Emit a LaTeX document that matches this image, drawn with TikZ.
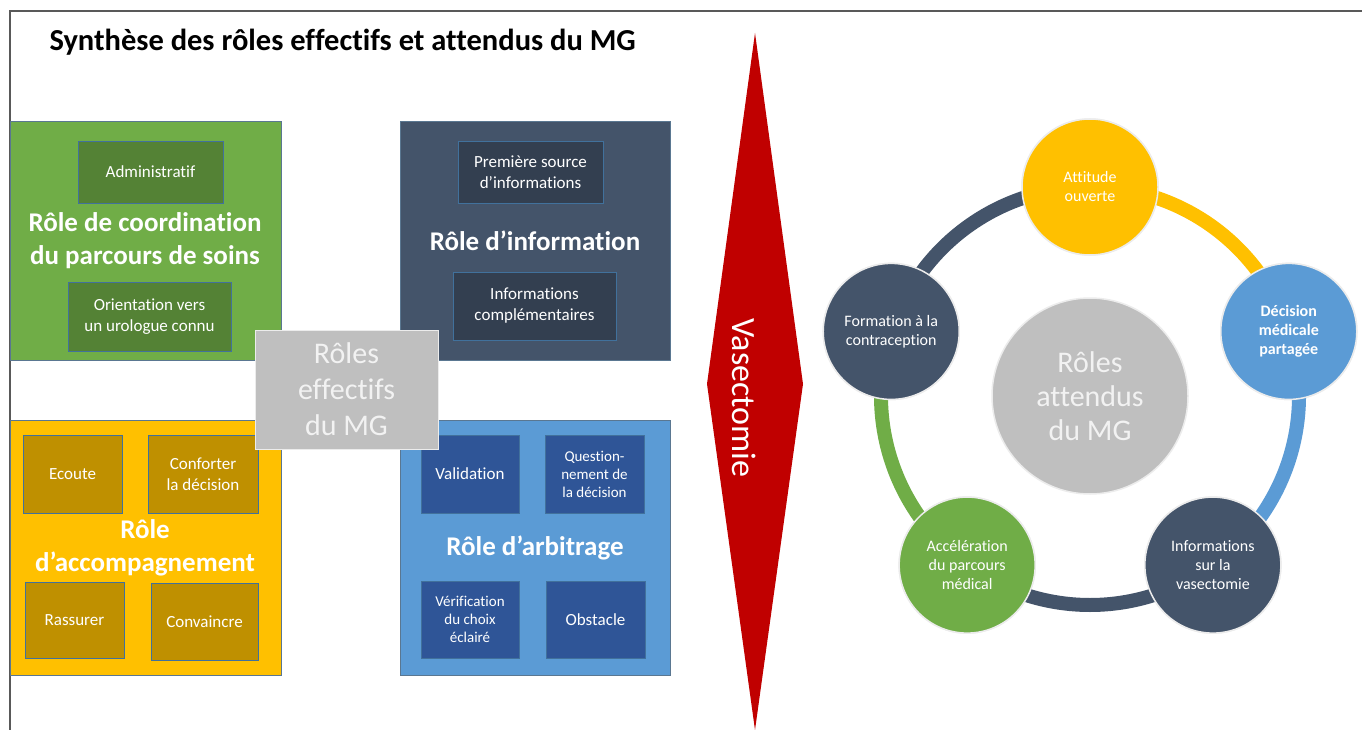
\documentclass[tikz,border=0pt]{standalone}
\usepackage{fontspec}
\setmainfont[Ligatures=NoCommon]{Carlito}
\definecolor{vert}{HTML}{70AD47}
\definecolor{vertfonce}{HTML}{548235}
\definecolor{marine}{HTML}{44546A}
\definecolor{marinefonce}{HTML}{333F50}
\definecolor{jaune}{HTML}{FFC000}
\definecolor{jaunefonce}{HTML}{BF9000}
\definecolor{bleu}{HTML}{5B9BD5}
\definecolor{bleufonce}{HTML}{2F5597}
\definecolor{gris}{HTML}{BFBFBF}
\definecolor{grisclair}{HTML}{F2F2F2}
\definecolor{rouge}{HTML}{C00000}
\definecolor{cadre}{HTML}{41719C}
\definecolor{trait}{HTML}{595959}

\tikzset{
  rolebox/.style={draw=cadre!60!gray, line width=0.8pt, inner sep=0pt},
  subbox/.style={draw=cadre, line width=0.8pt, inner sep=0pt, text=white, align=center,
    font=\fontsize{17}{21}\selectfont},
  smallbox/.style={subbox, font=\fontsize{15}{18}\selectfont},
  roletitle/.style={text=white, align=center, font=\bfseries\fontsize{27}{33}\selectfont},
  rond/.style={circle, minimum size=136pt, inner sep=0pt, draw=white!85!gray, line width=1.5pt,
    text=white, align=center, font=\fontsize{16}{19}\selectfont},
  anneau/.style={line width=14pt}
}

\begin{document}
\begin{tikzpicture}[x=1pt, y=-1pt]
\useasboundingbox (0,0) rectangle (1362,730);
\fill[white] (0,0) rectangle (1362,730);
\draw[trait, line width=1.5pt] (10,730) -- (10,11) -- (1362,11);

% titre
\node[anchor=west, font=\bfseries\fontsize{30.5}{34}\selectfont] (titre) at (46,42)
  {Synthèse des rôles effectifs et attendus du MG};

% role de coordination
\node[rolebox, fill=vert, minimum width=271pt, minimum height=239pt] (coord) at (145.5,240.5) {};
\node[subbox, fill=vertfonce, minimum width=145pt, minimum height=62pt] (admin) at (150.5,172) {Administratif};
\node[roletitle] (coordtxt) at (145,241) {Rôle de coordination\\du parcours de soins};
\node[subbox, fill=vertfonce, minimum width=163pt, minimum height=69pt] (orient) at (149.5,316.5)
  {Orientation vers\\un urologue connu};

% role d'information
\node[rolebox, fill=marine, minimum width=270pt, minimum height=239pt] (info) at (535,240.5) {};
\node[subbox, fill=marinefonce, minimum width=145pt, minimum height=62pt] (source) at (530.5,172)
  {Première source\\d’informations};
\node[roletitle] (infotxt) at (535,241) {Rôle d’information};
\node[subbox, fill=marinefonce, minimum width=163pt, minimum height=68pt] (compl) at (534.5,306)
  {Informations\\complémentaires};

% role d'accompagnement
\node[rolebox, fill=jaune, minimum width=271pt, minimum height=255pt] (accomp) at (145.5,547.5) {};
\node[subbox, fill=jaunefonce, minimum width=99pt, minimum height=78pt] (ecoute) at (72.5,474) {Ecoute};
\node[subbox, fill=jaunefonce, minimum width=110pt, minimum height=78pt] (conforter) at (203,474)
  {Conforter\\la décision};
\node[roletitle] (accomptxt) at (145,548) {Rôle\\d’accompagnement};
\node[subbox, fill=jaunefonce, minimum width=99pt, minimum height=76pt] (rassurer) at (74.5,620) {Rassurer};
\node[subbox, fill=jaunefonce, minimum width=107pt, minimum height=77pt] (convaincre) at (204.5,621.5) {Convaincre};

% role d'arbitrage
\node[rolebox, fill=bleu, minimum width=270pt, minimum height=255pt] (arbit) at (535,547.5) {};
\node[subbox, fill=bleufonce, minimum width=98pt, minimum height=78pt] (valid) at (470,474) {Validation};
\node[smallbox, fill=bleufonce, minimum width=99pt, minimum height=78pt] (quest) at (594.5,474)
  {Question-\\nement de\\la décision};
\node[roletitle] (arbittxt) at (535,548) {Rôle d’arbitrage};
\node[smallbox, fill=bleufonce, minimum width=98pt, minimum height=77pt] (verif) at (470,619.5)
  {Vérification\\du choix\\éclairé};
\node[subbox, fill=bleufonce, minimum width=99pt, minimum height=77pt] (obst) at (595.5,619.5) {Obstacle};

% roles effectifs
\node[draw=white!85!gray, line width=0.8pt, fill=gris, minimum width=183pt, minimum height=119pt,
  text=grisclair, align=center, font=\fontsize{30}{36}\selectfont] (effectifs) at (346.5,389.5)
  {Rôles\\effectifs\\du MG};

% vasectomie
\coordinate (haut) at (755,33);
\coordinate (droite) at (803,384);
\coordinate (bas) at (755,730);
\coordinate (gauche) at (707,384);
\fill[rouge] (haut) -- (droite) -- (bas) -- (gauche) -- cycle;
\node[rotate=-90, text=white, font=\fontsize{34}{40}\selectfont] (vasect) at (744,398) {Vasectomie};

% roles attendus
\coordinate (ctr) at (1090,396);
\node[rond] (att) at ([shift={(-90:209)}]ctr) {};
\node[rond] (dec) at ([shift={(-18:209)}]ctr) {};
\node[rond] (infvas) at ([shift={(54:209)}]ctr) {};
\node[rond] (accel) at ([shift={(126:209)}]ctr) {};
\node[rond] (form) at ([shift={(198:209)}]ctr) {};
\draw[anneau, jaune] (att.center) arc[start angle=-90, end angle=-18, radius=209];
\draw[anneau, bleu] (dec.center) arc[start angle=-18, end angle=54, radius=209];
\draw[anneau, marine] (infvas.center) arc[start angle=54, end angle=126, radius=209];
\draw[anneau, vert] (accel.center) arc[start angle=126, end angle=198, radius=209];
\draw[anneau, marine] (form.center) arc[start angle=198, end angle=270, radius=209];
\node[rond, fill=jaune] at (att) {Attitude\\ouverte};
\node[rond, fill=bleu, font=\bfseries\fontsize{16}{19}\selectfont] at (dec) {Décision\\médicale\\partagée};
\node[rond, fill=marine] at (infvas) {Informations\\sur la\\vasectomie};
\node[rond, fill=vert] at (accel) {Accélération\\du parcours\\médical};
\node[rond, fill=marine] at (form) {Formation à la\\contraception};
\node[circle, minimum size=196pt, fill=gris, draw=white!85!gray, line width=1.5pt, text=grisclair,
  align=center, font=\fontsize{30}{34}\selectfont] (attendus) at (ctr) {Rôles\\attendus\\du MG};
\end{tikzpicture}
\end{document}
